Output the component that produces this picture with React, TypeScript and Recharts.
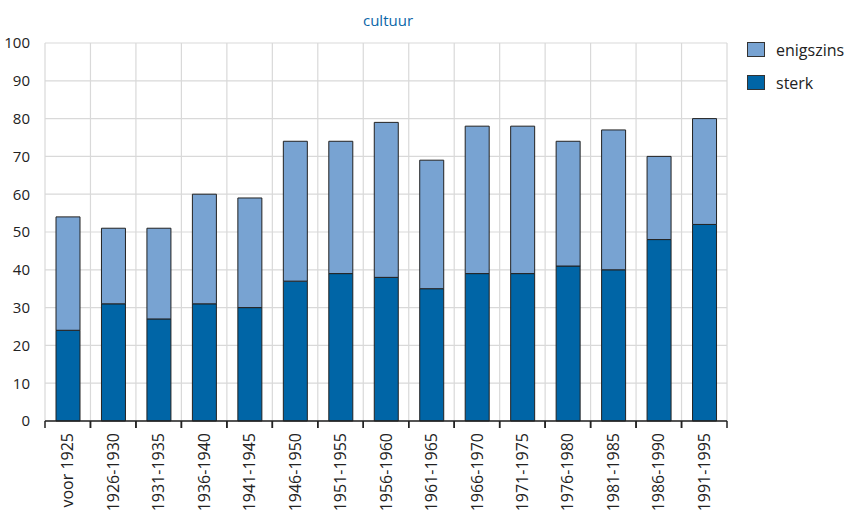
import React from 'react';
import { BarChart, Bar, XAxis, YAxis, CartesianGrid } from 'recharts';

const periods = [
  'voor 1925', '1926-1930', '1931-1935', '1936-1940', '1941-1945',
  '1946-1950', '1951-1955', '1956-1960', '1961-1965', '1966-1970',
  '1971-1975', '1976-1980', '1981-1985', '1986-1990', '1991-1995',
];
const sterk = [24, 31, 27, 31, 30, 37, 39, 38, 35, 39, 39, 41, 40, 48, 52];
const enigszins = [30, 20, 24, 29, 29, 37, 35, 41, 34, 39, 39, 33, 37, 22, 28];
const yTicks = [0, 10, 20, 30, 40, 50, 60, 70, 80, 90, 100];

const data = periods.map((p, i) => ({ period: p, sterk: sterk[i], enigszins: enigszins[i] }));

const W = 849;
const H = 513;
const M = { top: 43, right: 122, left: 0, bottom: 0 };
const Y_W = 45;
const X_H = 92;
const plotW = W - M.left - M.right - Y_W;
const band = plotW / periods.length;

const FONT = '"Open Sans", "Noto Sans", sans-serif';
const DARK = '#0065a6';
const LIGHT = '#78a3d2';

const PeriodTick = (props: any) => {
  const { x, y, payload } = props;
  return (
    <g transform={`translate(${x},${y})`}>
      <line x1={-band / 2} y1={0} x2={-band / 2} y2={7} stroke="#222" strokeWidth={1.5} />
      <line x1={band / 2} y1={0} x2={band / 2} y2={7} stroke="#222" strokeWidth={1.5} />
      <text
        transform="rotate(-90)"
        x={-12}
        y={0}
        dy="0.35em"
        textAnchor="end"
        fill="#222"
        fontSize={16}
        fontFamily={FONT}
      >
        {payload.value}
      </text>
    </g>
  );
};

const App = () => {
  return (
    <div style={{ position: 'absolute', left: 0, top: 0, width: W, height: H, background: '#fff', fontFamily: FONT }}>
      <div style={{ position: 'absolute', left: 0, top: 10, width: 776, textAlign: 'center', color: '#0b66a8', fontSize: 15 }}>
        cultuur
      </div>
      <div style={{ position: 'absolute', left: 747, top: 39, fontSize: 16, color: '#222' }}>
        {[{ name: 'enigszins', color: LIGHT }, { name: 'sterk', color: DARK }].map((it, i) => (
          <div key={it.name} style={{ display: 'flex', alignItems: 'center', height: 21, marginBottom: i === 0 ? 12 : 0 }}>
            <span style={{ display: 'inline-block', width: 16, height: 13, background: it.color, border: '1px solid #333', marginRight: 11 }} />
            <span>{it.name}</span>
          </div>
        ))}
      </div>
      <BarChart width={W} height={H} data={data} margin={M} barSize={24}>
        <CartesianGrid
          stroke="#d9d9d9"
          strokeWidth={1.2}
          verticalCoordinatesGenerator={({ offset }: any) =>
            periods.map((_, i) => offset.left + i * (offset.width / periods.length)).concat(offset.left + offset.width)
          }
        />
        <XAxis
          dataKey="period"
          height={X_H}
          interval={0}
          tickLine={false}
          tickSize={0}
          tickMargin={0}
          axisLine={{ stroke: '#222', strokeWidth: 1.5 }}
          tick={<PeriodTick />}
        />
        <YAxis
          width={Y_W}
          domain={[0, 100]}
          ticks={yTicks}
          interval={0}
          axisLine={false}
          tickLine={false}
          tickMargin={9}
          tick={{ fill: '#222', fontSize: 15, fontFamily: FONT }}
        />
        <Bar dataKey="sterk" stackId="a" fill={DARK} stroke="#222" strokeWidth={1} isAnimationActive={false} />
        <Bar dataKey="enigszins" stackId="a" fill={LIGHT} stroke="#222" strokeWidth={1} isAnimationActive={false} />
      </BarChart>
    </div>
  );
};

export default App;
